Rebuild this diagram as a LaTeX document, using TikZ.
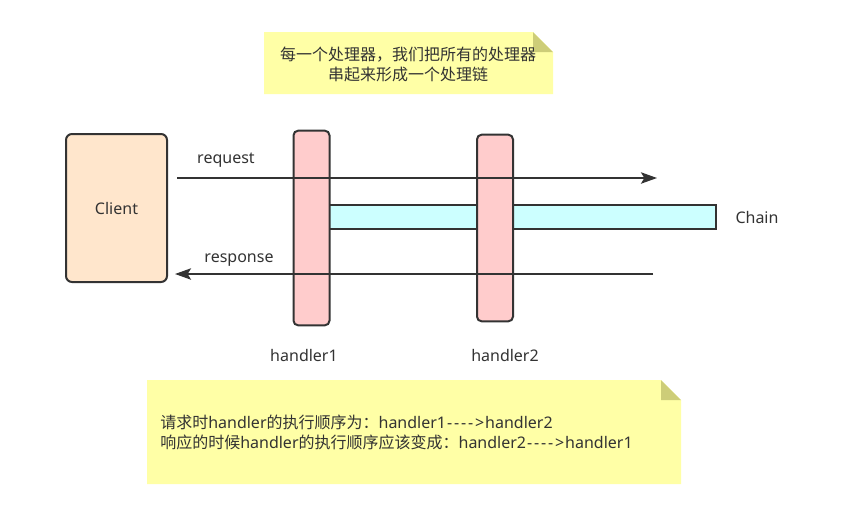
\documentclass[tikz,border=0pt]{standalone}
\usepackage{fontspec}
\setmainfont{Noto Sans}
\newfontfamily\cjk{Noto Sans CJK SC}
\usepackage{xcolor}
\usetikzlibrary{positioning}
\usetikzlibrary{arrows.meta}
\definecolor{linegray}{HTML}{333333}
\definecolor{clientfill}{HTML}{FFE6CC}
\definecolor{handlerfill}{HTML}{FFCCCC}
\definecolor{chainfill}{HTML}{CCFFFF}
\definecolor{notefill}{HTML}{FFFFA6}
\definecolor{notefold}{HTML}{CDCD78}
\newcommand{\dashto}{\kern0.7pt-\kern1.4pt-\kern1.4pt-\kern1.4pt-\kern1.4pt>\kern0.7pt}
\tikzstyle{lbl} = [text=linegray, font=\fontsize{12}{15}\selectfont, inner sep=0pt]
\tikzstyle{clientbox} = [rectangle, rounded corners=4.5pt, minimum width=75.75pt, minimum height=111pt, text centered, draw=linegray, line width=1.5pt, fill=clientfill, lbl]
\tikzstyle{handler} = [rectangle, rounded corners=3.5pt, minimum width=27pt, draw=linegray, line width=1.5pt, fill=handlerfill]
\tikzstyle{chain} = [rectangle, minimum width=297pt, minimum height=18pt, draw=linegray, line width=1.5pt, fill=chainfill]
\tikzstyle{arrow} = [line width=1.5pt, draw=linegray, -{Stealth[length=12pt, width=8.5pt, inset=2.5pt]}]

\begin{document}
\begin{tikzpicture}[x=0.75pt, y=-0.75pt]
        \useasboundingbox [fill=white] (0,0) rectangle (844,508);

        % notes
        \fill [notefill] (264,32) -- (533,32) -- (553,52) -- (553,94) -- (264,94) -- cycle;
        \fill [notefold] (533,32) -- (553,52) -- (533,52) -- cycle;
        \node (topnote) [lbl, align=center, font=\cjk\fontsize{12}{15}\selectfont] at (408,64) {每一个处理器，我们把所有的处理器\\串起来形成一个处理链};

        \fill [notefill] (147,380) -- (661,380) -- (681,400) -- (681,484) -- (147,484) -- cycle;
        \fill [notefold] (661,380) -- (681,400) -- (661,400) -- cycle;
        \node (bottomnote) [lbl, anchor=west, align=left] at (160,432) {{\cjk 请求时}handler{\cjk 的执行顺序为：}handler1\dashto handler2\\{\cjk 响应的时候}handler{\cjk 的执行顺序应该变成：}handler2\dashto handler1};

        \node (client) [clientbox] at (116.5,208) {Client};
        \node (chain) [chain] at (518,216.5) {};
        \node (handler1) [handler, minimum height=146pt] at (311.5,228) {};
        \node (handler2) [handler, minimum height=140pt] at (495,228) {};

        \node (chainText) [lbl] at (757,217) {Chain};
        \node (handler1Text) [lbl] at (304,355) {handler1};
        \node (handler2Text) [lbl] at (505,355) {handler2};

        \coordinate (reqStart) at (177,178);
        \coordinate (reqEnd) at (657,178);
        \coordinate (resStart) at (653,274);
        \coordinate (resEnd) at (175,274);

        \draw [arrow] (reqStart) -- (reqEnd);
        \draw [arrow] (resStart) -- (resEnd);
        \node (reqText) [lbl] at (226,160) {request};
        \node (resText) [lbl] at (239,260) {response};
    \end{tikzpicture}
\end{document}
